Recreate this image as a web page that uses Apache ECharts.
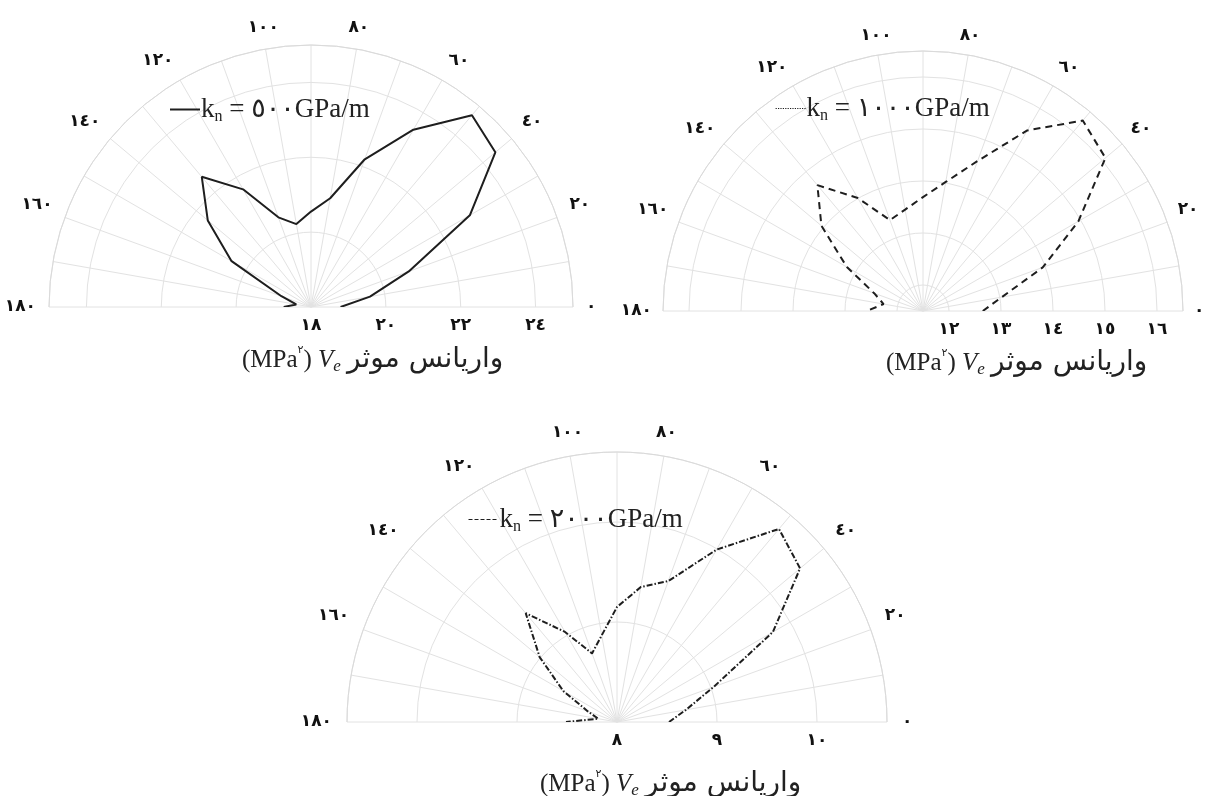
<!DOCTYPE html>
<html>
<head>
<meta charset="utf-8">
<script src="https://cdn.jsdelivr.net/npm/echarts@6/dist/echarts.min.js"></script>
<style>
html, body { margin: 0; padding: 0; background: #fff; }
#main { width: 1206px; height: 796px; }
</style>
</head>
<body>
<div id="main"></div>
<script>
// angle of the joint set (degrees) and effective variance Ve (MPa^2)
var angles = [0, 10, 20, 30, 40, 50, 60, 70, 80, 90, 100, 110, 120, 130, 140, 150, 160, 170, 180];
var ve500 = [18.79, 19.60, 20.78, 22.90, 24.43, 24.69, 23.47, 22.20, 20.95, 20.55, 20.25, 20.55, 21.63, 22.54, 21.60, 20.45, 18.84, 18.40, 18.73];
var ve1000 = [12.65, 13.04, 13.95, 14.95, 16.08, 16.28, 15.51, 14.57, 14.02, 13.69, 13.48, 13.36, 14.01, 14.66, 14.05, 13.19, 12.50, 12.27, 12.58];
var ve2000 = [8.52, 8.70, 9.03, 9.80, 10.39, 10.52, 9.99, 9.50, 9.37, 9.15, 8.88, 8.73, 9.04, 9.42, 9.01, 8.62, 8.31, 8.19, 8.51];

// normal stiffness of each panel (GPa/m)
var kn = [500, 1000, 2000];

// radial tick labels shown under each panel
var radTicks500 = [18, 20, 22, 24];
var radTicks1000 = [12, 13, 14, 15, 16];
var radTicks2000 = [8, 9, 10];

var gridColor = '#e2e2e2';
var lineColor = '#1e1e1e';
var serif = "'Liberation Serif', 'DejaVu Sans', serif";

function ar(v) {
    return String(v).replace(/[0-9]/g, function (d) { return '٠١٢٣٤٥٦٧٨٩'[+d]; });
}

var names = kn.map(function (k) { return 'kn = ' + ar(k) + 'GPa/m'; });

function angleAxis(i, margin) {
    return {
        polarIndex: i,
        type: 'value',
        min: 0,
        max: 180,
        interval: 20,
        startAngle: 0,
        endAngle: 180,
        clockwise: false,
        axisLine: { lineStyle: { color: '#dadada', width: 1 } },
        axisTick: { show: false },
        axisLabel: {
            margin: margin,
            color: '#111',
            fontFamily: 'DejaVu Sans',
            fontWeight: 'bold',
            fontSize: 17,
            formatter: function (v) { return ar(v); }
        },
        splitLine: { lineStyle: { color: gridColor, width: 1 } },
        minorTick: { show: false, splitNumber: 2 },
        minorSplitLine: { show: true, lineStyle: { color: gridColor, width: 1 } }
    };
}

function radiusAxis(i, min, max, interval, ticks) {
    return {
        polarIndex: i,
        type: 'value',
        min: min,
        max: max,
        interval: interval,
        splitNumber: 5,
        axisLine: { show: false },
        axisTick: { show: false },
        splitLine: { lineStyle: { color: gridColor, width: 1 } },
        axisLabel: {
            margin: -10,
            verticalAlign: 'top',
            color: '#111',
            fontFamily: 'DejaVu Sans',
            fontWeight: 'bold',
            fontSize: 17,
            formatter: function (v) { return ticks.indexOf(v) >= 0 ? ar(v) : ''; }
        }
    };
}

function polarSeries(i, vals, dash) {
    return {
        type: 'line',
        name: names[i],
        coordinateSystem: 'polar',
        polarIndex: i,
        symbol: 'none',
        color: lineColor,
        z: 5,
        lineStyle: { color: lineColor, width: 2, type: dash },
        data: angles.map(function (a, j) { return [vals[j], a]; })
    };
}

var legendRich = {
    k: { fontFamily: serif, fontSize: 27, color: '#222', lineHeight: 30 },
    n: { fontFamily: serif, fontSize: 16, color: '#222', lineHeight: 14, verticalAlign: 'bottom' },
    t: { fontFamily: serif, fontSize: 27, color: '#222', lineHeight: 30 }
};

function legend(i, left, top, iconStyle) {
    return {
        data: [names[i]],
        left: left,
        top: top,
        itemWidth: 30,
        itemHeight: 14,
        itemGap: 0,
        padding: 0,
        itemStyle: { opacity: 0 },
        lineStyle: iconStyle,
        formatter: function (name) { return '{k|k}{n|n}{t|' + name.slice(2) + '}'; },
        textStyle: { padding: [0, 0, 0, -4], rich: legendRich }
    };
}

var titleText = '{p|(MPa}{sup|' + ar(2) + '}{p|) }{it|V}{sub|e}{p| }{fa|واریانس موثر}';
var titleRich = {
    p: { fontFamily: serif, fontWeight: 'normal', fontSize: 25, color: '#222', lineHeight: 30 },
    sup: { fontFamily: 'DejaVu Sans', fontWeight: 'normal', fontSize: 11, color: '#222', lineHeight: 12, verticalAlign: 'top' },
    it: { fontFamily: serif, fontWeight: 'normal', fontStyle: 'italic', fontSize: 25, color: '#222', lineHeight: 30 },
    sub: { fontFamily: serif, fontWeight: 'normal', fontStyle: 'italic', fontSize: 17, color: '#222', lineHeight: 16, verticalAlign: 'bottom' },
    fa: { fontFamily: 'DejaVu Sans', fontWeight: 'normal', fontSize: 28, color: '#222', lineHeight: 30 }
};

function axisTitle(left, top) {
    return {
        left: left,
        top: top,
        padding: 0,
        text: titleText,
        textStyle: { fontWeight: 'normal', rich: titleRich }
    };
}

var option = {
    backgroundColor: '#fff',
    animation: false,
    title: [
        axisTitle(242, 345),
        axisTitle(886, 348),
        axisTitle(540, 769)
    ],
    legend: [
        legend(0, 169, 96, { width: 2, type: 'solid' }),
        legend(1, 775, 95, { width: 1.2, type: 'dotted' }),
        legend(2, 468, 506, { width: 1, type: 'dashed' })
    ],
    polar: [
        { center: [311, 307], radius: 262 },
        { center: [923, 311], radius: 260 },
        { center: [617, 722], radius: 270 }
    ],
    angleAxis: [angleAxis(0, 13), angleAxis(1, 11), angleAxis(2, 15)],
    radiusAxis: [
        radiusAxis(0, 18, 25, 2, radTicks500),
        radiusAxis(1, 11.5, 16.5, undefined, radTicks1000),
        radiusAxis(2, 8, 10.7, 1, radTicks2000)
    ],
    series: [
        polarSeries(0, ve500, 'solid'),
        polarSeries(1, ve1000, [7, 5]),
        polarSeries(2, ve2000, [6, 2, 1.5, 2])
    ]
};

var myChart = echarts.init(document.getElementById('main'));
myChart.setOption(option);
</script>
</body>
</html>
